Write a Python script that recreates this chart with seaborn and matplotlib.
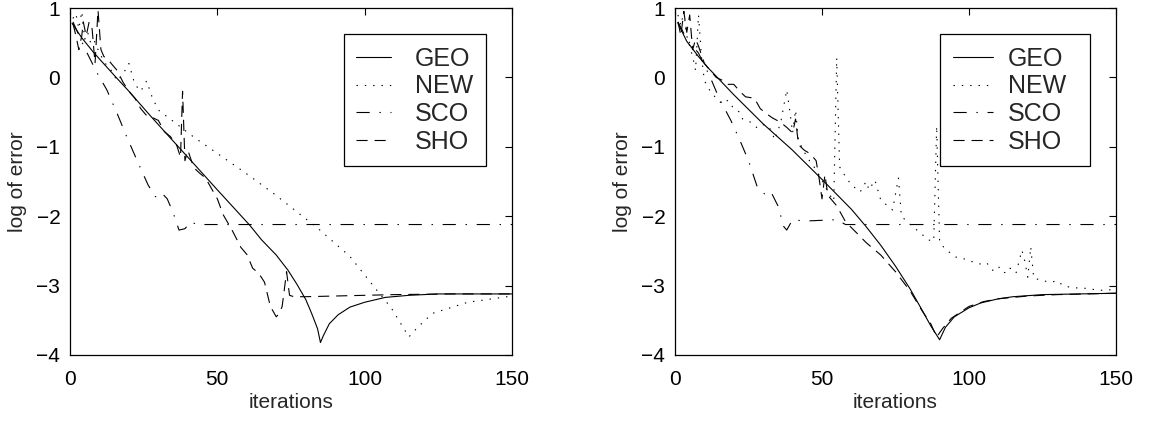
import matplotlib
matplotlib.use("Agg")
import matplotlib.pyplot as plt
import seaborn as sns
import pandas as pd

# ---------------- data ----------------
# Left panel
geo_l_x = [0.7, 4, 8, 15, 20, 27, 34, 40, 50, 61, 65, 70, 74, 77, 80, 82, 84, 85, 86, 88, 91, 95, 100, 107, 115, 125, 150]
geo_l_y = [0.78, 0.57, 0.36, 0.03, -0.2, -0.54, -0.87, -1.15, -1.62, -2.13, -2.34, -2.56, -2.78, -2.98, -3.2, -3.4, -3.62, -3.82, -3.72, -3.55, -3.42, -3.31, -3.24, -3.17, -3.14, -3.12, -3.12]

new_l_x = [1, 2, 3, 4, 5, 6, 7, 8, 10, 12, 14, 16, 18, 20, 22, 24, 26, 28, 30, 42, 59, 69, 84, 95, 104, 109, 115, 118, 123, 135, 150]
new_l_y = [0.85, 0.92, 0.7, 0.95, 0.55, 0.65, 0.5, 0.55, 0.35, 0.2, 0.1, -0.05, 0.05, 0.2, -0.1, -0.2, -0.05, -0.3, -0.47, -0.86, -1.36, -1.67, -2.17, -2.58, -3.06, -3.32, -3.74, -3.6, -3.4, -3.24, -3.15]

sco_l_x = [1, 5, 9, 12.5, 16, 19.3, 23, 26.5, 29, 31, 33, 35, 37, 39, 41, 43, 150]
sco_l_y = [0.8, 0.42, 0.08, -0.18, -0.52, -0.86, -1.22, -1.55, -1.72, -1.66, -1.75, -1.95, -2.2, -2.18, -2.08, -2.12, -2.12]

sho_l_x = [1, 2, 3, 4, 4.5, 5.5, 6.5, 7.5, 8.5, 9.5, 10.5, 11.5, 12.5, 14, 16, 18, 20, 22, 24, 26, 28, 30, 32, 34, 36, 37.5, 38.2, 39, 40, 42, 44, 46, 48, 50, 52, 55, 58, 60, 62, 64, 66, 68, 70, 71, 72, 73.5, 74.5, 76, 80, 90, 100, 110, 130, 150]
sho_l_y = [0.78, 0.6, 0.4, 0.6, 0.8, 0.6, 0.8, 0.7, 0.2, 0.97, 0.4, 0.3, 0.28, 0.2, 0.1, -0.07, -0.2, -0.3, -0.45, -0.55, -0.58, -0.62, -0.78, -0.85, -0.95, -1.15, -0.2, -1.2, -1.05, -1.3, -1.38, -1.45, -1.6, -1.75, -1.98, -2.2, -2.45, -2.55, -2.75, -2.82, -2.95, -3.3, -3.45, -3.4, -3.3, -2.8, -3.14, -3.16, -3.16, -3.15, -3.14, -3.13, -3.12, -3.12]

# Right panel
geo_r_x = [1, 4, 8, 11, 20, 30, 40, 50, 60, 65, 70, 75, 80, 84, 87, 90, 92, 95, 100, 104, 110, 115, 125, 150]
geo_r_y = [0.78, 0.52, 0.3, 0.15, -0.25, -0.67, -1.05, -1.47, -1.9, -2.15, -2.42, -2.72, -3.05, -3.35, -3.58, -3.78, -3.6, -3.45, -3.32, -3.25, -3.19, -3.16, -3.13, -3.11]

new_r_x = [1, 2, 3, 4, 5, 6, 7, 8, 9, 10, 12, 14, 16, 18, 20, 22, 23, 26, 28, 30, 32, 34, 36, 38, 39, 40, 41, 42, 43.6, 46, 48, 50, 52, 54, 55, 56, 58, 60, 63, 65, 66, 68, 70, 72, 74, 76, 77, 80, 84, 86, 88, 89, 90, 92, 94, 96, 99, 102, 104, 106, 108, 110, 111, 113, 114, 116, 118, 119, 120, 121, 122, 125, 128, 130, 132, 135, 140, 143, 146, 150]
new_r_y = [0.9, 0.75, 0.95, 0.6, 0.45, 0.3, 0.1, 0.9, 0.3, -0.05, -0.2, -0.3, -0.38, -0.33, -0.45, -0.5, -0.6, -0.65, -0.73, -0.68, -0.71, -0.9, -0.64, -0.18, -0.47, -0.8, -0.47, -0.9, -1.05, -1.22, -1.33, -1.48, -1.65, -1.78, 0.28, -1.29, -1.43, -1.55, -1.65, -1.5, -1.62, -1.48, -1.77, -1.84, -1.91, -1.45, -2.0, -2.12, -2.26, -2.34, -2.36, -0.7, -2.37, -2.48, -2.54, -2.6, -2.62, -2.67, -2.69, -2.67, -2.78, -2.72, -2.8, -2.82, -2.75, -2.82, -2.49, -2.65, -2.88, -2.44, -2.89, -2.93, -2.95, -2.93, -3.0, -3.03, -3.04, -3.06, -3.07, -3.05]

sco_r_x = [1, 4, 8, 12, 15, 19, 22, 25, 28, 30, 31, 33, 35, 37, 38, 40, 44, 55, 58, 150]
sco_r_y = [0.8, 0.55, 0.35, 0.0, -0.3, -0.62, -0.9, -1.2, -1.58, -1.65, -1.72, -1.68, -1.85, -2.15, -2.2, -2.05, -2.07, -2.05, -2.12, -2.12]

sho_r_x = [1, 2, 3, 4, 5, 6, 7, 8, 10, 12, 14, 16, 18, 20, 22, 24, 27, 29, 31, 33, 36, 38, 40, 41, 42, 44, 46, 48, 49, 50, 51, 52, 55, 58, 62, 65, 70, 75, 80, 84, 87, 89, 91, 94, 100, 105, 110, 120, 130, 150]
sho_r_y = [0.8, 0.6, 0.95, 0.65, 0.9, 0.4, 0.55, 0.45, 0.2, 0.1, 0.0, -0.04, -0.1, -0.1, -0.2, -0.28, -0.3, -0.45, -0.52, -0.58, -0.65, -0.72, -0.8, -0.6, -0.97, -1.05, -1.1, -1.2, -1.45, -1.75, -1.4, -1.7, -1.85, -2.08, -2.25, -2.38, -2.56, -2.8, -3.08, -3.36, -3.55, -3.74, -3.62, -3.47, -3.3, -3.23, -3.19, -3.15, -3.13, -3.11]

series_names = ["GEO", "NEW", "SCO", "SHO"]
x_ticks = [0, 50, 100, 150]
y_ticks = [-4, -3, -2, -1, 0, 1]
x_label = "iterations"
y_label = "log of error"

# ---------------- styling ----------------
sns.set_theme(style="white")
plt.rcParams["font.family"] = ["Liberation Sans", "DejaVu Sans"]
plt.rcParams["lines.scale_dashes"] = False

styles = {
    "GEO": "-",
    "NEW": (0, (1.0, 5.0)),
    "SCO": (0, (9.5, 7.0, 1.0, 7.0)),
    "SHO": (0, (8.0, 5.0)),
}

fig = plt.figure(figsize=(11.5, 4.21), dpi=100)
ax_l = fig.add_axes([70 / 1150, 1 - 355 / 421, 442 / 1150, 347 / 421])
ax_r = fig.add_axes([675 / 1150, 1 - 355 / 421, 441 / 1150, 347 / 421])

legend_opts = [
    dict(loc="upper right", bbox_to_anchor=(0.941, 0.925), handlelength=1.4, handletextpad=0.96),
    dict(loc="upper left", bbox_to_anchor=(0.601, 0.5, 0.340, 0.425), mode="expand",
         handlelength=1.6, handletextpad=0.6),
]

panels = [
    (ax_l, [(geo_l_x, geo_l_y), (new_l_x, new_l_y), (sco_l_x, sco_l_y), (sho_l_x, sho_l_y)]),
    (ax_r, [(geo_r_x, geo_r_y), (new_r_x, new_r_y), (sco_r_x, sco_r_y), (sho_r_x, sho_r_y)]),
]

for (ax, data), lopt in zip(panels, legend_opts):
    for name, (xs, ys) in zip(series_names, data):
        df = pd.DataFrame({"x": xs, "y": ys})
        sns.lineplot(data=df, x="x", y="y", ax=ax, color="black", linewidth=0.8,
                     linestyle=styles[name], label=name, sort=False, estimator=None)
    ax.set_xlim(0, 150)
    ax.set_ylim(-4, 1)
    ax.set_xticks(x_ticks)
    ax.set_yticks(y_ticks)
    ax.set_xlabel(x_label, fontsize=15, labelpad=3)
    ax.set_ylabel(y_label, fontsize=15, labelpad=7)
    ax.tick_params(direction="in", length=5, width=0.8, top=True, right=True,
                   labelsize=15, colors="black")
    ax.tick_params(axis="x", pad=11)
    ax.tick_params(axis="y", pad=7)
    for sp in ax.spines.values():
        sp.set_visible(True)
        sp.set_color("black")
        sp.set_linewidth(0.9)
    ax.set_facecolor("white")
    leg = ax.legend(borderaxespad=0, fontsize=18, frameon=True, fancybox=False,
                    framealpha=1, edgecolor="black", labelspacing=0.15,
                    borderpad=0.5, **lopt)
    leg.get_frame().set_linewidth(0.9)

fig.savefig("out.png", dpi=100, facecolor="white")
